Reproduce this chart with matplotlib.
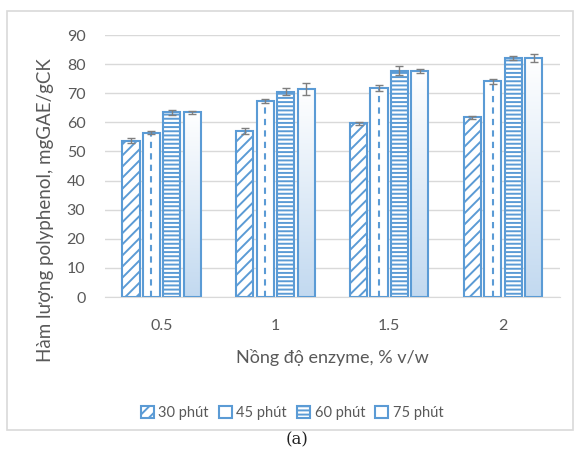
import matplotlib
matplotlib.use("Agg")
import matplotlib.pyplot as plt
import numpy as np
from matplotlib.patches import Rectangle

plt.rcParams['font.family'] = ['Lato', 'DejaVu Sans']
plt.rcParams['hatch.linewidth'] = 1.4

# data
concentrations = ['0.5', '1', '1.5', '2']
series_names = ['30 phút', '45 phút', '60 phút', '75 phút']
t30 = [53.7, 57.0, 59.7, 61.7]
t45 = [56.4, 67.3, 71.8, 74.1]
t60 = [63.4, 70.5, 77.7, 82.1]
t75 = [63.4, 71.5, 77.7, 82.1]
err30 = [0.8, 1.0, 0.5, 0.5]
err45 = [0.5, 0.8, 1.0, 0.8]
err60 = [0.8, 1.2, 1.5, 0.8]
err75 = [0.5, 2.0, 0.8, 1.5]

values = [t30, t45, t60, t75]
errors = [err30, err45, err60, err75]
hatches = ['///', None, '----', None]

blue = '#5b9bd5'
grid_col = '#d9d9d9'
text_col = '#595959'

fig = plt.figure(figsize=(5.76, 4.58), dpi=100)
ax = fig.add_axes([0.182, 0.3515, 0.79, 0.572])

x = np.arange(len(concentrations))
pitch = 0.18
width = 0.15
grad = np.linspace(1, 0, 256).reshape(-1, 1)
cmap = matplotlib.colors.LinearSegmentedColormap.from_list('g', ['#ffffff', '#c2d9f0'])

handles = []
for i, (vals, errs, h) in enumerate(zip(values, errors, hatches)):
    pos = x + (i - 1.5) * pitch
    if i == 3:
        # gradient filled bars
        bars = ax.bar(pos, vals, width, facecolor='#d2e3f4', edgecolor=blue, linewidth=1.5,
                      label=series_names[i], zorder=3)
        for b in bars:
            b.set_facecolor('none')
            im = ax.imshow(grad, cmap=cmap, aspect='auto', origin='lower',
                           extent=[b.get_x(), b.get_x() + b.get_width(), 0, b.get_height()],
                           zorder=2)
            im.set_clip_path(b)
    elif i == 1:
        # dashed vertical pattern
        bars = ax.bar(pos, vals, width, facecolor='white', edgecolor=blue, linewidth=1.5,
                      label=series_names[i], zorder=3)
        ax.vlines(pos, 0, vals, colors=blue, linewidth=1.5, linestyles=(0, (3, 2.5)), zorder=3)
    else:
        bars = ax.bar(pos, vals, width, facecolor='white', edgecolor=blue, linewidth=1.5,
                      hatch=h, label=series_names[i], zorder=3)
    ax.errorbar(pos, vals, yerr=errs, fmt='none', ecolor='#7f7f7f', elinewidth=1,
                capsize=3, capthick=1, zorder=4)
    handles.append(bars)

ax.set_xlim(-0.5, 3.5)
ax.set_ylim(0, 90)
ax.set_yticks(range(0, 91, 10))
ax.set_xticks(x)
ax.set_xticklabels(concentrations)
ax.tick_params(length=0, colors=text_col, labelsize=11.5)
ax.tick_params(axis='y', pad=14)
ax.tick_params(axis='x', pad=16)
ax.grid(axis='y', color=grid_col, linewidth=1, zorder=0)
ax.set_axisbelow(True)
for s in ['top', 'right', 'left']:
    ax.spines[s].set_visible(False)
ax.spines['bottom'].set_color(grid_col)

ax.set_ylabel('Hàm lượng polyphenol, mgGAE/gCK', color=text_col, fontsize=13.5)
ax.yaxis.set_label_coords(-0.112, 0.33)
ax.set_xlabel('Nồng độ enzyme, % v/w', color=text_col, fontsize=13, labelpad=11)

fig.legend(handles=handles, labels=series_names, loc='center', ncol=4,
           bbox_to_anchor=(0.507, 0.098), frameon=False, fontsize=10.5,
           handlelength=0.9, handleheight=0.9, handletextpad=0.3,
           columnspacing=0.7, labelcolor=text_col)

# outer chart border
fig.patches.append(Rectangle((7 / 576, 1 - 430 / 458), 566 / 576, 419 / 458,
                             transform=fig.transFigure, fill=False,
                             edgecolor=grid_col, linewidth=1.2))

fig.text(0.515, 1 - 440 / 458, '(a)', ha='center', va='center',
         fontsize=12, family='DejaVu Serif', color='#222222')

fig.savefig('out.png', dpi=100)
